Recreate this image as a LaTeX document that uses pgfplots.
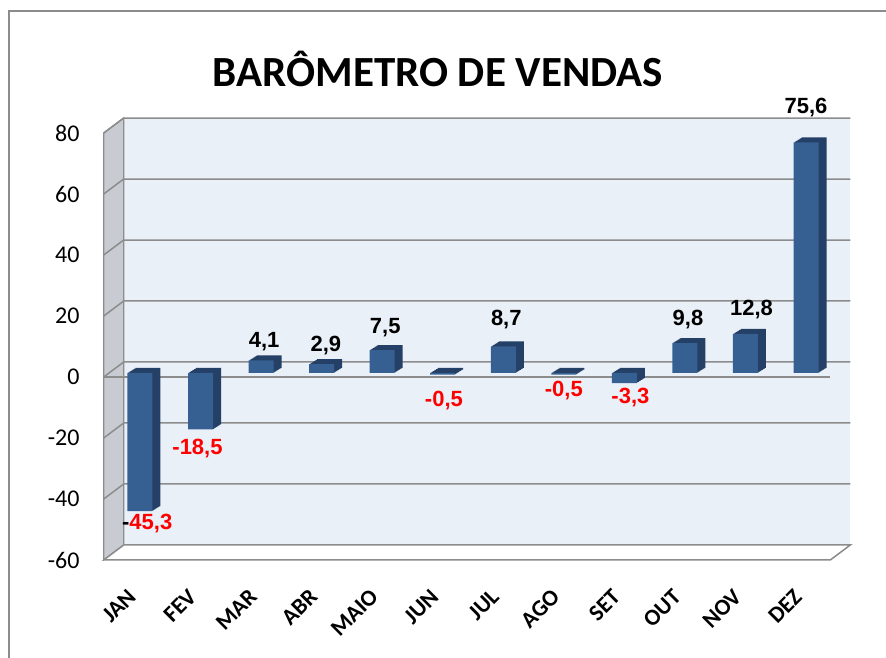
\documentclass[border=0pt]{standalone}
\usepackage{pgfplots}
\pgfplotsset{compat=1.18}
\usepackage{pgfplotstable}
\usepackage{fontspec}
\setmainfont{Liberation Sans}
\newfontfamily\calibri{Carlito}
\definecolor{wall}{RGB}{234,240,248}
\definecolor{sidewall}{RGB}{200,204,210}
\definecolor{gridc}{RGB}{140,140,140}
\definecolor{barfront}{RGB}{54,96,146}
\definecolor{barside}{RGB}{36,64,102}
\definecolor{lblred}{RGB}{255,0,0}
\newcommand\negb{\textcolor{black}{-}}

\pgfplotstableread{
x y
0 -45.3
1 -18.5
2 4.1
3 2.9
4 7.5
5 -0.5
6 8.7
7 -0.5
8 -3.3
9 9.8
10 12.8
11 75.6
}\vendas

\pgfplotstableread{
x y lab
2.05 10.2 4,1
3.07 8.9 2,9
4.05 14.8 7,5
6.05 17.4 8,7
9.05 17.4 9,8
10.1 20.7 12,8
11.0 86.9 75,6
}\poslab

\pgfplotstableread{
x y lab
0.12 -49.5 \negb45,3
0.95 -24.6 -18,5
5.02 -8.9 -0,5
7.0 -5.9 -0,5
8.1 -7.9 -3,3
}\neglab

\begin{document}
\begin{tikzpicture}
\path[use as bounding box] (0pt,0pt) rectangle (886pt,658pt);
\draw[gridc, line width=1.5pt] (9pt,0pt) -- (9pt,647pt) -- (886pt,647pt);
\node[font=\calibri\bfseries\fontsize{43}{50}\selectfont] at (438pt,589pt) {BARÔMETRO DE VENDAS};
\begin{axis}[
  at={(109.7pt,102pt)}, anchor=south west,
  scale only axis, width=726.6pt, height=427pt,
  xmin=-0.5, xmax=11.5, ymin=-60, ymax=80,
  clip=false,
  axis line style={draw=none}, tick style={draw=none},
  xtick={0,...,11},
  xticklabels={JAN,FEV,MAR,ABR,MAIO,JUN,JUL,AGO,SET,OUT,NOV,DEZ},
  xticklabel style={font=\calibri\bfseries\fontsize{23}{26}\selectfont, xshift=-8pt, yshift=-37pt, rotate=45, anchor=east, inner sep=0pt},
  ytick={-60,-40,-20,0,20,40,60,80},
  yticklabels={-60,-40,-20,0,20,40,60,80},
  yticklabel style={font=\calibri\fontsize{24}{26}\selectfont, anchor=east, inner sep=0pt, xshift=-30pt, yshift=-4pt},
]
% walls
\fill[wall] ([shift={(14pt,11pt)}]axis cs:-0.5,-60) rectangle ([shift={(14pt,11pt)}]axis cs:11.5,80);
\filldraw[fill=sidewall, draw=gridc, line width=1.2pt]
  ([shift={(-6pt,-4pt)}]axis cs:-0.5,-60) -- ([shift={(-6pt,-4pt)}]axis cs:-0.5,80)
  -- ([shift={(14pt,11pt)}]axis cs:-0.5,80) -- ([shift={(14pt,11pt)}]axis cs:-0.5,-60) -- cycle;
\filldraw[fill=white, draw=gridc, line width=1.5pt]
  ([shift={(-6pt,-4pt)}]axis cs:-0.5,-60) -- ([shift={(-6pt,-4pt)}]axis cs:11.5,-60)
  -- ([shift={(14pt,11pt)}]axis cs:11.5,-60) -- ([shift={(14pt,11pt)}]axis cs:-0.5,-60) -- cycle;
\pgfplotsinvokeforeach{-40,-20,0,20,40,60,80}{
  \draw[gridc, line width=1.5pt] ([shift={(-6pt,-4pt)}]axis cs:-0.5,#1) -- ([shift={(14pt,11pt)}]axis cs:-0.5,#1) -- ([shift={(14pt,11pt)}]axis cs:11.5,#1);
}
\draw[gridc, line width=1.5pt] ([shift={(-6pt,-4pt)}]axis cs:-0.5,0) -- ([shift={(-6pt,-4pt)}]axis cs:11.5,0);
% bars: depth sweep then front
\pgfplotsinvokeforeach{8,7,6,5,4,3,2,1}{
  \addplot[ybar, bar width=25pt, bar shift=0pt, fill=barside, draw=none, xshift=#1pt, yshift=#1*0.625pt] table[x=x,y=y] {\vendas};
}
\addplot[ybar, bar width=25pt, bar shift=0pt, fill=barfront, draw=none] table[x=x,y=y] {\vendas};
% labels
\addplot[draw=none, mark=none, nodes near coords, point meta=explicit symbolic,
  every node near coord/.style={anchor=center, font=\bfseries\fontsize{22}{26}\selectfont, text=black}]
  table[x=x,y=y,meta=lab] {\poslab};
\addplot[draw=none, mark=none, nodes near coords, point meta=explicit symbolic,
  every node near coord/.style={anchor=center, font=\bfseries\fontsize{22}{26}\selectfont, text=lblred}]
  table[x=x,y=y,meta=lab] {\neglab};
\end{axis}
\end{tikzpicture}
\end{document}
